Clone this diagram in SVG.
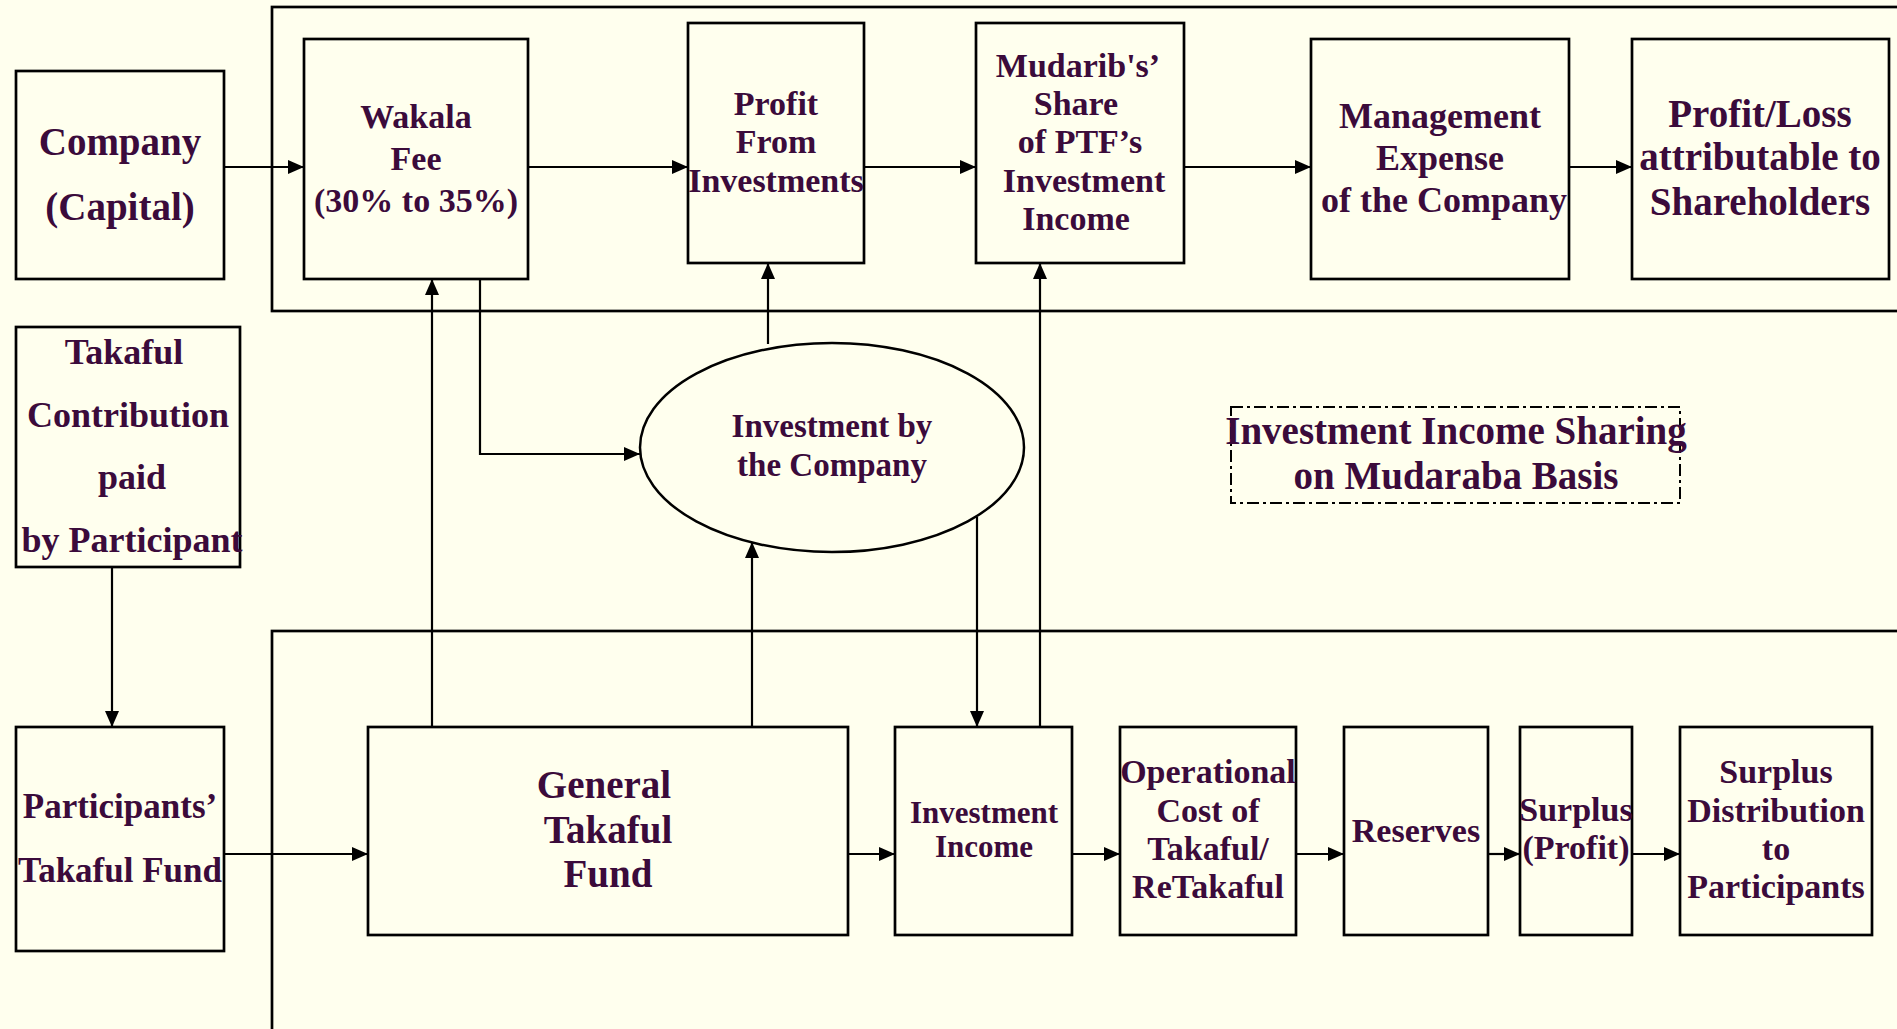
<svg xmlns="http://www.w3.org/2000/svg" width="1897" height="1029" viewBox="0 0 1897 1029">
<defs>
<marker id="ah" viewBox="0 0 16 14" refX="16" refY="7" markerWidth="16" markerHeight="14" markerUnits="userSpaceOnUse" orient="auto">
<path d="M0,0 L16,7 L0,14 Z" fill="#000"/>
</marker>
<style>
.box{fill:none;stroke:#000;stroke-width:2.7}
.cont{fill:none;stroke:#000;stroke-width:2.7}
.ln{fill:none;stroke:#000;stroke-width:2.2}
.ar{fill:none;stroke:#000;stroke-width:2.2;marker-end:url(#ah)}
text{font-family:"Liberation Serif","Times New Roman",serif;font-weight:bold;fill:#3b0b3b;text-anchor:middle}
.f34{font-size:34px}
.f39{font-size:39px}
.f36{font-size:36px}
.f35{font-size:35px}
.f31{font-size:31px}
.f33{font-size:33px}
</style>
</defs>
<rect x="0" y="0" width="1897" height="1029" fill="#FFFFEE"/>

<g id="containers">
<rect class="cont" x="272" y="7" width="1700" height="304"/>
<rect class="cont" x="272" y="631" width="1700" height="500"/>
</g>

<g id="connectors">
<line class="ar" x1="224" y1="167" x2="304" y2="167"/>
<line class="ar" x1="528" y1="167" x2="688" y2="167"/>
<line class="ar" x1="864" y1="167" x2="976" y2="167"/>
<line class="ar" x1="1184" y1="167" x2="1311" y2="167"/>
<line class="ar" x1="1569" y1="167" x2="1632" y2="167"/>
<line class="ar" x1="112" y1="567" x2="112" y2="727"/>
<line class="ar" x1="224" y1="854" x2="368" y2="854"/>
<line class="ar" x1="848" y1="854" x2="895" y2="854"/>
<line class="ar" x1="1072" y1="854" x2="1120" y2="854"/>
<line class="ar" x1="1296" y1="854" x2="1344" y2="854"/>
<line class="ar" x1="1488" y1="854" x2="1520" y2="854"/>
<line class="ar" x1="1632" y1="854" x2="1680" y2="854"/>
<line class="ar" x1="432" y1="727" x2="432" y2="279"/>
<polyline class="ar" points="480,279 480,454 640,454"/>
<line class="ar" x1="752" y1="727" x2="752" y2="542"/>
<line class="ar" x1="768" y1="344" x2="768" y2="263"/>
<line class="ar" x1="977" y1="517" x2="977" y2="727"/>
<line class="ar" x1="1040" y1="727" x2="1040" y2="263"/>
</g>

<g id="company">
<rect class="box" x="16" y="71" width="208" height="208"/>
<text class="f39" x="120" y="155">Company</text>
<text class="f39" x="120" y="220">(Capital)</text>
</g>

<g id="wakala">
<rect class="box" x="304" y="39" width="224" height="240"/>
<text class="f34" x="416" y="128">Wakala</text>
<text class="f34" x="416" y="170">Fee</text>
<text class="f34" x="416" y="212">(30% to 35%)</text>
</g>

<g id="profit-investments">
<rect class="box" x="688" y="23" width="176" height="240"/>
<text class="f34" x="776" y="115">Profit</text>
<text class="f34" x="776" y="153">From</text>
<text class="f34" x="776" y="192">Investments</text>
</g>

<g id="mudarib-share">
<rect class="box" x="976" y="23" width="208" height="240"/>
<text class="f34" x="1078" y="77">Mudarib's’</text>
<text class="f34" x="1076" y="115">Share</text>
<text class="f34" x="1080" y="153">of PTF’s</text>
<text class="f34" x="1084" y="192">Investment</text>
<text class="f34" x="1076" y="230">Income</text>
</g>

<g id="management-expense">
<rect class="box" x="1311" y="39" width="258" height="240"/>
<text class="f36" x="1440" y="128">Management</text>
<text class="f36" x="1440" y="170">Expense</text>
<text class="f36" x="1444" y="212">of the Company</text>
</g>

<g id="profit-loss">
<rect class="box" x="1632" y="39" width="257" height="240"/>
<text class="f39" x="1760" y="127">Profit/Loss</text>
<text class="f39" x="1760" y="170">attributable to</text>
<text class="f39" x="1760" y="215">Shareholders</text>
</g>

<g id="takaful-contribution">
<rect class="box" x="16" y="327" width="224" height="240"/>
<text class="f36" x="124" y="364">Takaful</text>
<text class="f36" x="128" y="427">Contribution</text>
<text class="f36" x="132" y="489">paid</text>
<text class="f36" x="132" y="552">by Participant</text>
</g>

<g id="investment-by-company">
<ellipse cx="832" cy="447.5" rx="192" ry="104.5" fill="none" stroke="#000" stroke-width="2.5"/>
<text class="f33" x="832" y="437">Investment by</text>
<text class="f33" x="832" y="476">the Company</text>
</g>

<g id="mudaraba-note">
<rect x="1231" y="407" width="449" height="96" fill="none" stroke="#000" stroke-width="2" stroke-dasharray="12 4 3 4"/>
<text class="f39" x="1456" y="444">Investment Income Sharing</text>
<text class="f39" x="1456" y="489">on Mudaraba Basis</text>
</g>

<g id="participants-fund">
<rect class="box" x="16" y="727" width="208" height="224"/>
<text class="f35" x="120" y="818">Participants’</text>
<text class="f35" x="120" y="882">Takaful Fund</text>
</g>

<g id="general-takaful-fund">
<rect class="box" x="368" y="727" width="480" height="208"/>
<text class="f39" x="604" y="798">General</text>
<text class="f39" x="608" y="843">Takaful</text>
<text class="f39" x="608" y="887">Fund</text>
</g>

<g id="investment-income">
<rect class="box" x="895" y="727" width="177" height="208"/>
<text class="f31" x="984" y="823">Investment</text>
<text class="f31" x="984" y="857">Income</text>
</g>

<g id="operational-cost">
<rect class="box" x="1120" y="727" width="176" height="208"/>
<text class="f34" x="1208" y="783">Operational</text>
<text class="f34" x="1208" y="822">Cost of</text>
<text class="f34" x="1208" y="860">Takaful/</text>
<text class="f34" x="1208" y="898">ReTakaful</text>
</g>

<g id="reserves">
<rect class="box" x="1344" y="727" width="144" height="208"/>
<text class="f34" x="1416" y="842">Reserves</text>
</g>

<g id="surplus">
<rect class="box" x="1520" y="727" width="112" height="208"/>
<text class="f34" x="1576" y="821">Surplus</text>
<text class="f34" x="1576" y="859">(Profit)</text>
</g>

<g id="surplus-distribution">
<rect class="box" x="1680" y="727" width="192" height="208"/>
<text class="f34" x="1776" y="783">Surplus</text>
<text class="f34" x="1776" y="822">Distribution</text>
<text class="f34" x="1776" y="860">to</text>
<text class="f34" x="1776" y="898">Participants</text>
</g>
</svg>
